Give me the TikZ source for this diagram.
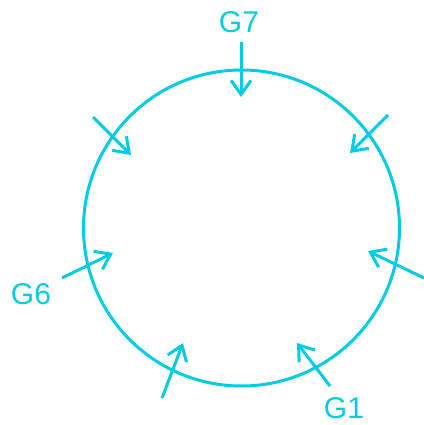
\documentclass[tikz,border=0pt]{standalone}
\usepackage{fontspec}
\setmainfont{Liberation Sans}
\usetikzlibrary{arrows.meta}
\definecolor{cy}{RGB}{0,204,230}
\begin{document}
\begin{tikzpicture}[x=1pt,y=-1pt,
  ring/.style={draw=cy,line width=3pt,circle,minimum size=316pt,inner sep=0pt},
  inarrow/.style={draw=cy,line width=3pt,-{Straight Barb[length=14pt,width=20pt,line width=3pt]}},
  lab/.style={text=cy,font=\fontsize{30pt}{31pt}\selectfont,inner sep=0pt}]
\useasboundingbox (0,0) rectangle (423,425);
\node[ring] (c) at (241.5,228) {};
% labels
\node[lab] (g7) at (239,22) {G7};
\node[lab] (g6) at (31,294) {G6};
\node[lab] (g1) at (344,408) {G1};
% arrow ends
\coordinate (s7) at (241,42);   \coordinate (t7) at (241,97);
\coordinate (sul) at (93,117);  \coordinate (tul) at (131,155);
\coordinate (sur) at (388,115); \coordinate (tur) at (350,153);
\coordinate (sr) at (424,278);  \coordinate (tr) at (368,251);
\coordinate (s6) at (62,278);   \coordinate (t6) at (113,253);
\coordinate (sbl) at (162,398); \coordinate (tbl) at (183,343);
\coordinate (s1) at (330,386);  \coordinate (t1) at (297,343);
\draw[inarrow] (s7) -- (t7);
\draw[inarrow] (sul) -- (tul);
\draw[inarrow] (sur) -- (tur);
\draw[inarrow] (sr) -- (tr);
\draw[inarrow] (s6) -- (t6);
\draw[inarrow] (sbl) -- (tbl);
\draw[inarrow] (s1) -- (t1);
\end{tikzpicture}
\end{document}
